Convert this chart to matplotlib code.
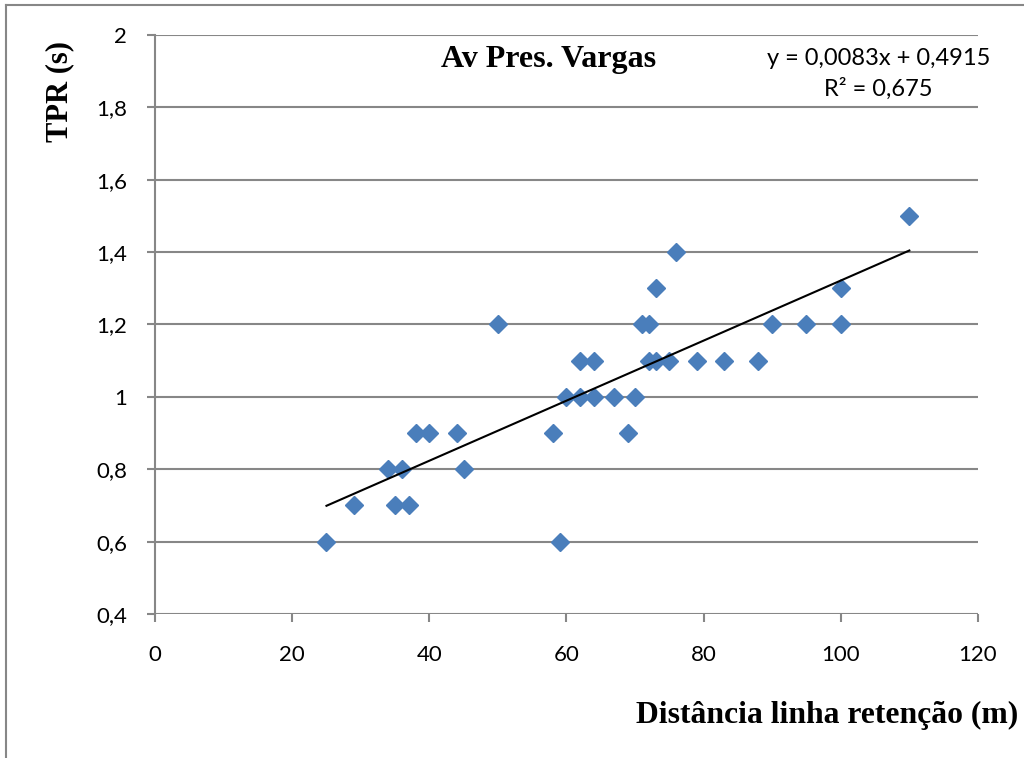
import matplotlib.pyplot as plt
from matplotlib.lines import Line2D
from matplotlib.ticker import FuncFormatter

# distancia ate a linha de retencao (m) e TPR (s)
dist = [25, 29, 34, 35, 36, 37, 38, 40, 44, 45, 50, 58, 59, 60, 62, 62, 64, 64,
        67, 69, 70, 71, 72, 72, 73, 73, 75, 76, 79, 83, 88, 90, 95, 100, 100, 110]
tpr = [0.6, 0.7, 0.8, 0.7, 0.8, 0.7, 0.9, 0.9, 0.9, 0.8, 1.2, 0.9, 0.6, 1.0, 1.1, 1.0, 1.1, 1.0,
       1.0, 0.9, 1.0, 1.2, 1.2, 1.1, 1.1, 1.3, 1.1, 1.4, 1.1, 1.1, 1.1, 1.2, 1.2, 1.3, 1.2, 1.5]

# linha de tendencia linear
slope = 0.0083
intercept = 0.4915
r2 = 0.675

xticks = [0, 20, 40, 60, 80, 100, 120]
yticks = [0.4, 0.6, 0.8, 1.0, 1.2, 1.4, 1.6, 1.8, 2.0]

grey = "#878787"
blue = "#4A7EBB"
calibri = ["Lato", "DejaVu Sans"]
times = "Liberation Serif"

fig = plt.figure(figsize=(10.24, 7.58), dpi=100)
ax = fig.add_axes([0.1514, 0.19, 0.8036, 0.7638])

for y in yticks:
    ax.axhline(y, color=grey, lw=1.5, zorder=1)

ax.plot(dist, tpr, "D", ms=9.6, color=blue, mec=blue, zorder=3, clip_on=False)

x0, x1 = min(dist), max(dist)
ax.plot([x0, x1], [slope * x0 + intercept, slope * x1 + intercept], color="black", lw=1.5, zorder=4)

ax.set_xlim(0, 120)
ax.set_ylim(0.4, 2.0)
ax.set_xticks(xticks)
ax.set_yticks(yticks)

def virgula(v, pos):
    s = ("%.1f" % v).rstrip("0").rstrip(".")
    return s.replace(".", ",")

ax.yaxis.set_major_formatter(FuncFormatter(virgula))
ax.tick_params(axis="both", direction="out", length=6, width=1.5, color=grey,
               labelsize=16, pad=8)
ax.tick_params(axis="y", pad=14)
ax.tick_params(axis="x", pad=16)
for lab in ax.get_xticklabels() + ax.get_yticklabels():
    lab.set_family(calibri)

for s in ["top", "right", "bottom"]:
    ax.spines[s].set_visible(False)
ax.spines["left"].set_color(grey)
ax.spines["left"].set_linewidth(1.5)

ax.text(0.478, 0.958, "Av Pres. Vargas", transform=ax.transAxes, ha="center", va="center",
        fontsize=23, fontweight="bold", family=times)
ax.text(0.88, 0.960, "y = 0,0083x + 0,4915", transform=ax.transAxes, ha="center",
        va="center", fontsize=17, family=calibri)
ax.text(0.879, 0.908, "R² = 0,675", transform=ax.transAxes, ha="center",
        va="center", fontsize=17, family=calibri)

fig.text(0.994, 1 - 715 / 758, "Distância linha retenção (m)", ha="right", va="center",
         fontsize=22.8, fontweight="bold", family=times)
fig.text(60 / 1024, 1 - 91 / 758, "TPR (s)", ha="center", va="center", rotation=90,
         fontsize=22, fontweight="bold", family=times)

# moldura do grafico
fig.add_artist(Line2D([6 / 1024, 6 / 1024], [0, 1 - 5 / 758], color=grey, lw=1.5,
                      transform=fig.transFigure))
fig.add_artist(Line2D([6 / 1024, 1], [1 - 5 / 758, 1 - 5 / 758], color=grey, lw=1.5,
                      transform=fig.transFigure))

fig.savefig("out.png", dpi=100)
